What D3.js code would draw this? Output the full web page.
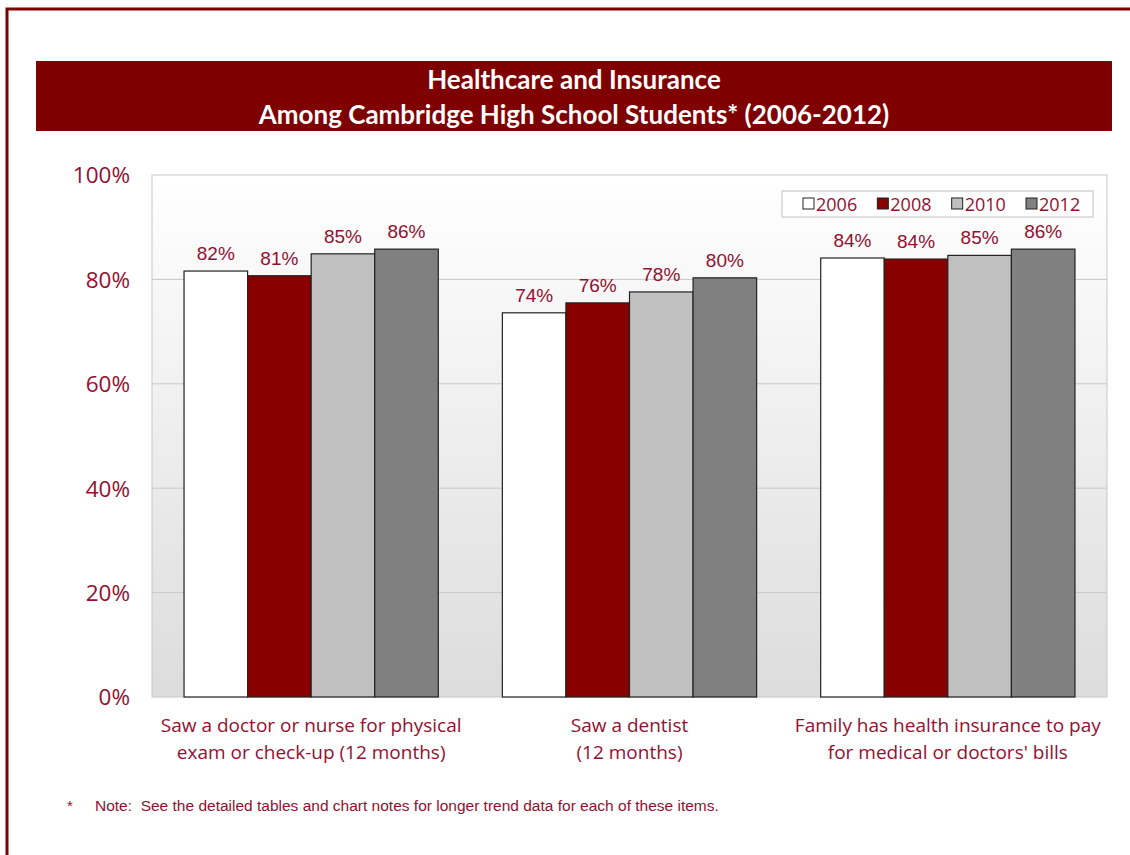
<!DOCTYPE html>
<html><head><meta charset="utf-8">
<script src="https://cdn.jsdelivr.net/npm/d3@7"></script>
<style>body{margin:0;background:#fff;} svg{display:block;}</style>
</head><body>
<script>
const categories = [
  ["Saw a doctor or nurse for physical", "exam or check-up (12 months)"],
  ["Saw a dentist", "(12 months)"],
  ["Family has health insurance to pay", "for medical or doctors' bills"]
];
const years = ["2006", "2008", "2010", "2012"];
const values2006 = [81.6, 73.6, 84.1];
const values2008 = [80.7, 75.5, 83.9];
const values2010 = [84.9, 77.6, 84.6];
const values2012 = [85.8, 80.3, 85.8];
const yTicks = [0, 20, 40, 60, 80, 100];
const titleLines = ["Healthcare and Insurance", "Among Cambridge High School Students* (2006-2012)"];
const footnote = "Note:  See the detailed tables and chart notes for longer trend data for each of these items.";

const series = [values2006, values2008, values2010, values2012];
const colors = ["#ffffff", "#880000", "#c0c0c0", "#808080"];
const textRed = "#921030";

const W = 1130, H = 855;
const svg = d3.select("body").append("svg").attr("width", W).attr("height", H);

// outer frame
svg.append("rect").attr("x", 7).attr("y", 9).attr("width", W + 10).attr("height", H + 10)
  .attr("fill", "none").attr("stroke", "#7f0000").attr("stroke-width", 3);

// title banner
svg.append("rect").attr("x", 36).attr("y", 61).attr("width", 1076).attr("height", 70).attr("fill", "#7f0000");
svg.selectAll("text.title").data(titleLines).enter().append("text")
  .attr("x", 574).attr("y", (d, i) => 89 + i * 35)
  .attr("text-anchor", "middle").attr("fill", "#fff")
  .attr("font-family", "Lato, 'Open Sans', sans-serif").attr("font-weight", "bold").attr("font-size", 26)
  .text(d => d);

const plot = {left: 152, right: 1107, top: 175, bottom: 697};
const defs = svg.append("defs");
const grad = defs.append("linearGradient").attr("id", "bg").attr("x1", 0).attr("y1", 0).attr("x2", 0).attr("y2", 1);
grad.append("stop").attr("offset", "0%").attr("stop-color", "#ffffff");
grad.append("stop").attr("offset", "100%").attr("stop-color", "#dcdcdc");

svg.append("rect").attr("x", plot.left).attr("y", plot.top)
  .attr("width", plot.right - plot.left).attr("height", plot.bottom - plot.top)
  .attr("fill", "url(#bg)").attr("stroke", "#c8c8c8").attr("stroke-width", 1);

const y = d3.scaleLinear().domain([0, 100]).range([plot.bottom, plot.top]);
const x0 = d3.scaleBand().domain(d3.range(categories.length)).range([plot.left, plot.right]).paddingInner(0).paddingOuter(0);
const x1 = d3.scaleBand().domain(d3.range(years.length)).range([0, x0.bandwidth()]).paddingOuter(0.504).paddingInner(0);

// gridlines
svg.append("g").selectAll("line").data(yTicks.filter(t => t > 0 && t < 100)).enter().append("line")
  .attr("x1", plot.left).attr("x2", plot.right).attr("y1", d => y(d)).attr("y2", d => y(d))
  .attr("stroke", "#c8c8c8").attr("stroke-width", 1);

// y axis
const yAxis = d3.axisLeft(y).tickValues(yTicks).tickSize(0).tickPadding(0).tickFormat(d => d + "%");
const ga = svg.append("g").attr("transform", `translate(${130},0)`).call(yAxis);
ga.select(".domain").remove();
ga.selectAll("text").attr("fill", textRed).attr("font-family", "'Open Sans', sans-serif").attr("font-size", 22.5)
  .attr("dy", "0.35em");

// bars
const groups = svg.append("g").selectAll("g").data(categories).enter().append("g")
  .attr("transform", (d, i) => `translate(${x0(i)},0)`);
groups.each(function(c, ci) {
  const g = d3.select(this);
  series.forEach((s, si) => {
    g.append("rect").attr("x", x1(si)).attr("y", y(s[ci]))
      .attr("width", x1.bandwidth()).attr("height", y(0) - y(s[ci]))
      .attr("fill", colors[si]).attr("stroke", "#222").attr("stroke-width", 1.2);
    g.append("text").attr("x", x1(si) + x1.bandwidth() / 2).attr("y", y(s[ci]) - 11)
      .attr("text-anchor", "middle").attr("fill", textRed)
      .attr("font-family", "'Liberation Sans', Arial, sans-serif").attr("font-size", 19)
      .text(Math.round(s[ci]) + "%");
  });
});

// category labels
groups.each(function(c, ci) {
  d3.select(this).selectAll("text.cat").data(c).enter().append("text")
    .attr("x", x0.bandwidth() / 2).attr("y", (d, i) => 732 + i * 27)
    .attr("text-anchor", "middle").attr("fill", textRed)
    .attr("font-family", "'Open Sans', sans-serif").attr("font-size", 19)
    .text(d => d);
});

// legend
const lg = svg.append("g");
lg.append("rect").attr("x", 782).attr("y", 191).attr("width", 311).attr("height", 26)
  .attr("fill", "#fff").attr("stroke", "#c0c0c0").attr("stroke-width", 1);
const lx = d3.scalePoint().domain(years).range([803, 1026]);
years.forEach((yr, i) => {
  lg.append("rect").attr("x", lx(yr)).attr("y", 198).attr("width", 11).attr("height", 11)
    .attr("fill", colors[i]).attr("stroke", "#222").attr("stroke-width", 1);
  lg.append("text").attr("x", lx(yr) + 13).attr("y", 210.5).attr("fill", textRed)
    .attr("font-family", "'Open Sans', sans-serif").attr("font-size", 18).text(yr);
});

// footnote
svg.append("text").attr("x", 67).attr("y", 811).attr("fill", textRed)
  .attr("font-family", "'Liberation Sans', Arial, sans-serif").attr("font-size", 15).text("*");
svg.append("text").attr("x", 95).attr("y", 811).attr("fill", textRed)
  .attr("font-family", "'Liberation Sans', Arial, sans-serif").attr("font-size", 15.5)
  .attr("xml:space", "preserve").style("white-space", "pre").text(footnote);
</script>
</body></html>
